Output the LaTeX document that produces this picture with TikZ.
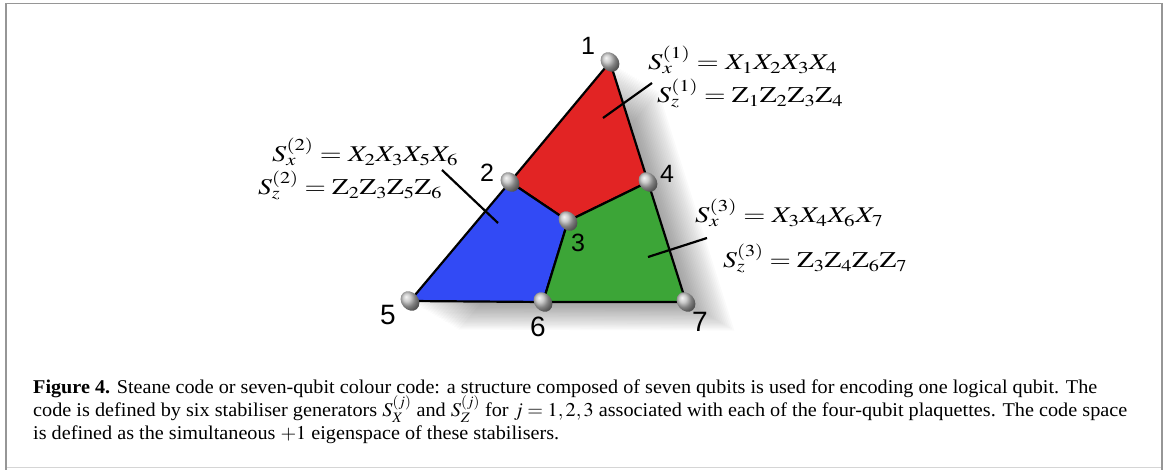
\documentclass[tikz,border=0pt]{standalone}
\usepackage{mathptmx}
\usepackage{fontspec}
\setmainfont{Liberation Serif}
\newfontfamily\digitfont{Liberation Sans}
\usepackage{graphicx}
\usetikzlibrary{shapes.geometric}
\definecolor{plqred}{RGB}{226,36,36}
\definecolor{plqblue}{RGB}{50,74,245}
\definecolor{plqgreen}{RGB}{60,165,55}
\definecolor{framecol}{RGB}{150,150,150}
\tikzset{
  plaq/.style={draw=black, line width=2.2pt, line join=round},
  qubit/.style={ellipse, minimum width=17pt, minimum height=21pt, inner sep=0pt,
                shading=ball, ball color=gray!55, rotate=40},
  digit/.style={font=\digitfont\fontsize{25}{28}\selectfont, inner sep=0pt},
  bigdigit/.style={font=\digitfont\fontsize{28}{30}\selectfont, inner sep=0pt},
  stab/.style={anchor=base west, inner sep=0pt, font=\fontsize{22.5}{26}\selectfont},
  leader/.style={draw=black, line width=2.2pt},
  capline/.style={anchor=base west, inner sep=0pt, font=\fontsize{19.5}{23}\selectfont}
}
\begin{document}
\begin{tikzpicture}[x=1pt,y=-1pt]
\useasboundingbox (0,0) rectangle (1168,470);
% frame
\draw[framecol!40, line width=1pt] (6,467) -- (1162,467);
\draw[framecol, line width=1.8pt] (6,470) -- (6,3.5) -- (1162,3.5) -- (1162,470);
% vertices
\coordinate (c1) at (610,62);
\coordinate (c2) at (510,182);
\coordinate (c3) at (568,221);
\coordinate (c4) at (648,182);
\coordinate (c5) at (410,301);
\coordinate (c6) at (543,302);
\coordinate (c7) at (686,302);
% soft shadow
\foreach \i in {1,...,22}{
  \fill[black, opacity=0.018]
    ([xshift=\i*2.2pt, yshift=-\i*1.3pt]c1) --
    ([xshift=\i*2.2pt, yshift=-\i*1.3pt]c7) --
    ([xshift=\i*2.2pt, yshift=-\i*1.3pt]c5) -- cycle;
}
% plaquettes
\filldraw[plaq, fill=plqred]   (c1) -- (c2) -- (c3) -- (c4) -- cycle;
\filldraw[plaq, fill=plqblue]  (c2) -- (c5) -- (c6) -- (c3) -- cycle;
\filldraw[plaq, fill=plqgreen] (c3) -- (c4) -- (c7) -- (c6) -- cycle;
% qubits
\foreach \k in {1,...,7}{ \node[qubit] (q\k) at (c\k) {}; }
% qubit numbers
\node[digit] (n1) at (588,46) {1};
\node[digit] (n2) at (487,173) {2};
\node[digit] (n3) at (578,243) {3};
\node[digit] (n4) at (667,174) {4};
\node[bigdigit] (n5) at (388,315) {5};
\node[bigdigit] (n6) at (538,327) {6};
\node[bigdigit] (n7) at (700,322) {7};
% stabiliser labels
\node[stab] (s1x) at (648,70)  {\resizebox{189pt}{\height}{$S_x^{(1)} = X_1X_2X_3X_4$}};
\node[stab] (s1z) at (657,103) {\resizebox{186pt}{\height}{$S_z^{(1)} = \mathrm{Z}_1\mathrm{Z}_2\mathrm{Z}_3\mathrm{Z}_4$}};
\node[stab] (s2x) at (272,162) {\resizebox{186pt}{\height}{$S_x^{(2)} = X_2X_3X_5X_6$}};
\node[stab] (s2z) at (258,195) {\resizebox{184pt}{\height}{$S_z^{(2)} = \mathrm{Z}_2\mathrm{Z}_3\mathrm{Z}_5\mathrm{Z}_6$}};
\node[stab] (s3x) at (695,223) {\resizebox{188pt}{\height}{$S_x^{(3)} = X_3X_4X_6X_7$}};
\node[stab] (s3z) at (723,268) {\resizebox{184pt}{\height}{$S_z^{(3)} = \mathrm{Z}_3\mathrm{Z}_4\mathrm{Z}_6\mathrm{Z}_7$}};
% leader lines
\coordinate (a1) at (652,83);  \coordinate (b1) at (603,118);
\coordinate (a2) at (442,170); \coordinate (b2) at (498,223);
\coordinate (a3) at (707,238); \coordinate (b3) at (648,257);
\draw[leader] (a1) -- (b1);
\draw[leader] (a2) -- (b2);
\draw[leader] (a3) -- (b3);
% caption
\node[capline] (cap1) at (33,394) {\resizebox{1064pt}{\height}{\textbf{Figure 4.} Steane code or seven-qubit colour code: a structure composed of seven qubits is used for encoding one logical qubit. The}};
\node[capline] (cap2) at (33,416.5) {\resizebox{1094pt}{\height}{code is defined by six stabiliser generators $S_X^{(j)}$ and $S_Z^{(j)}$ for $j = 1, 2, 3$ associated with each of the four-qubit plaquettes. The code space}};
\node[capline] (cap3) at (33,439) {\resizebox{526pt}{\height}{is defined as the simultaneous $+1$ eigenspace of these stabilisers.}};
\end{tikzpicture}
\end{document}
